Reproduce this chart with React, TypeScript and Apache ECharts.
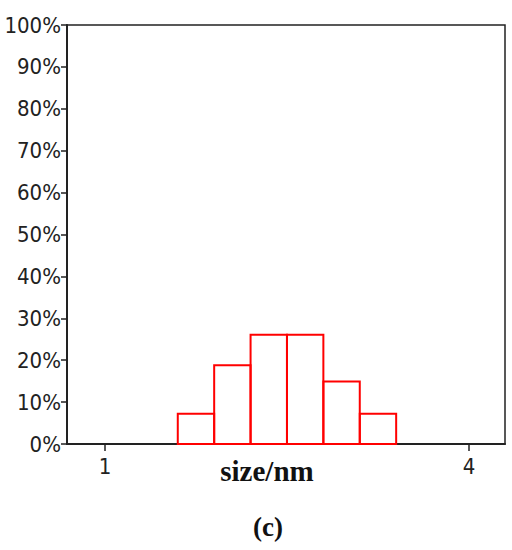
import React, { useEffect, useRef } from "react";
import * as echarts from "echarts";

const binStarts = [1.6, 1.9, 2.2, 2.5, 2.8, 3.1];
const binEnds = [1.9, 2.2, 2.5, 2.8, 3.1, 3.4];
const percents = [7.2, 18.8, 26.1, 26.1, 14.9, 7.2];
const xTickValues = [1, 4];
const xTitle = "size/nm";
const caption = "(c)";

const labelFont = "'Liberation Sans Narrow', 'Arial Narrow', 'DejaVu Sans Condensed', sans-serif";

export default function App() {
  const ref = useRef<HTMLDivElement>(null);
  useEffect(() => {
    const chart = echarts.init(ref.current!, null, { renderer: "svg" });
    const data = binStarts.map((s, i) => [s, binEnds[i], percents[i]]);
    chart.setOption({
      animation: false,
      backgroundColor: "#fff",
      grid: {
        left: 67,
        top: 25,
        right: 7,
        bottom: 106,
        show: true,
        borderColor: "#222",
        borderWidth: 1.5,
        containLabel: false,
        outerBoundsMode: "none",
      },
      xAxis: {
        type: "value",
        min: 0.687,
        max: 4.297,
        axisLine: { show: true, lineStyle: { color: "#222", width: 2 } },
        axisTick: { show: true, customValues: xTickValues, length: 7, lineStyle: { color: "#222", width: 1.5 } },
        axisLabel: {
          customValues: xTickValues,
          color: "#222",
          fontFamily: labelFont,
          fontSize: 22,
          margin: 11,
        },
        splitLine: { show: false },
      },
      yAxis: {
        type: "value",
        min: 0,
        max: 100,
        interval: 10,
        axisLine: { show: true, lineStyle: { color: "#222", width: 2 } },
        axisTick: { show: true, length: 6, lineStyle: { color: "#222", width: 1.5 } },
        axisLabel: {
          formatter: "{value}%",
          color: "#222",
          fontFamily: labelFont,
          fontSize: 22,
          margin: 6,
        },
        splitLine: { show: false },
      },
      series: [
        {
          type: "custom",
          data,
          encode: { x: [0, 1], y: 2 },
          renderItem: (params: any, api: any) => {
            const p0 = api.coord([api.value(0), api.value(2)]);
            const p1 = api.coord([api.value(1), 0]);
            return {
              type: "rect",
              shape: { x: p0[0], y: p0[1], width: p1[0] - p0[0], height: p1[1] - p0[1] },
              style: { fill: "none", stroke: "#ff0000", lineWidth: 2 },
              z2: 10,
            };
          },
        },
      ],
      graphic: [
        {
          type: "text",
          x: 267,
          y: 471,
          style: {
            text: xTitle,
            font: "bold 29px 'Liberation Serif'",
            fill: "#111",
            align: "center",
            verticalAlign: "middle",
          },
        },
        {
          type: "text",
          x: 268,
          y: 527,
          style: {
            text: caption,
            font: "bold 27px 'Liberation Serif'",
            fill: "#111",
            align: "center",
            verticalAlign: "middle",
          },
        },
      ],
    });
    return () => chart.dispose();
  }, []);
  return (
    <div
      ref={ref}
      style={{ position: "absolute", left: 0, top: 0, width: 512, height: 550 }}
    />
  );
}
